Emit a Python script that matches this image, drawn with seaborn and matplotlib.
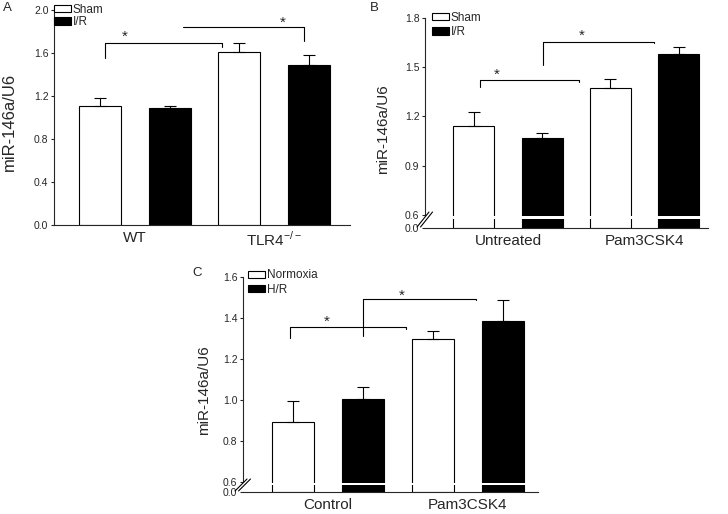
import numpy as np
import pandas as pd
import matplotlib
matplotlib.use('Agg')
import matplotlib.pyplot as plt
import seaborn as sns
from matplotlib.patches import Patch

# ── DATA ───────────────────────────────────────────────────────
a_groups   = ['WT', 'TLR4$^{-/-}$']
a_hues     = ['Sham', 'I/R']
a_sham     = [1.104, 1.612]
a_sham_err = [0.077, 0.081]
a_ir       = [1.088, 1.491]
a_ir_err   = [0.022, 0.090]

b_groups   = ['Untreated', 'Pam3CSK4']
b_hues     = ['Sham', 'I/R']
b_sham     = [1.143, 1.373]
b_sham_err = [0.085, 0.053]
b_ir       = [1.072, 1.580]
b_ir_err   = [0.030, 0.045]

c_groups   = ['Control', 'Pam3CSK4']
c_hues     = ['Normoxia', 'H/R']
c_norm     = [0.893, 1.298]
c_norm_err = [0.104, 0.039]
c_hr       = [1.007, 1.387]
c_hr_err   = [0.058, 0.099]

# ── STYLE ──────────────────────────────────────────────────────
sns.set_style('ticks')
plt.rcParams['font.family'] = ['Liberation Sans', 'DejaVu Sans']
plt.rcParams['mathtext.fontset'] = 'custom'
plt.rcParams['mathtext.rm'] = 'Liberation Sans'
plt.rcParams['axes.linewidth'] = 0.8
LW = 0.8

fig = plt.figure(figsize=(7.28, 5.14), dpi=100)


# ── HELPER: broken y scale (squeeze 0..cut) ────────────────────
def make_break(k, cut=0.6):
    def fwd(y):
        y = np.asarray(y, dtype=float)
        return np.where(y >= cut, y, cut - (cut - y) * k)

    def inv(u):
        u = np.asarray(u, dtype=float)
        return np.where(u >= cut, u, cut - (cut - u) / k)
    return fwd, inv


# ── HELPER: one panel ──────────────────────────────────────────
def draw_panel(pos, groups, hues, v1, e1, v2, e2, yticks, ylim, xlim,
               letter, letter_xy, label_xy, label_size, leg_anchor,
               leg_space, brackets, brk=None):
    ax = fig.add_axes(pos)
    df = pd.DataFrame({
        'group': groups * 2,
        'treat': [hues[0]] * len(groups) + [hues[1]] * len(groups),
        'value': list(v1) + list(v2),
    })
    sns.barplot(data=df, x='group', y='value', hue='treat',
                order=groups, hue_order=hues,
                palette=['white', 'black'], edgecolor='black',
                linewidth=LW, width=1.0, gap=0.4, errorbar=None,
                legend=False, ax=ax)

    # upper-only error bars on each bar
    for cont, errs in zip(ax.containers, [e1, e2]):
        xs = [b.get_x() + b.get_width() / 2 for b in cont]
        ys = [b.get_height() for b in cont]
        ax.errorbar(xs, ys, yerr=[np.zeros(len(errs)), errs], fmt='none',
                    ecolor='black', elinewidth=LW, capsize=4,
                    capthick=LW, zorder=4)

    if brk is not None:
        k, gap_lo, gap_hi, cut_px = brk
        fwd, inv = make_break(k)
        ax.set_yscale('function', functions=(fwd, inv))
        ax.axhspan(gap_lo, gap_hi, color='white', zorder=3, lw=0)
        ax.spines['left'].set_bounds(0.6, ylim[1])
        w, h = ax.bbox.width, ax.bbox.height
        for dx in (-2.0, 1.5):
            ax.plot([(-6 + dx) / w, (6 + dx) / w], [1 / h, (cut_px + 3) / h],
                    transform=ax.transAxes, color='black', lw=LW,
                    clip_on=False, zorder=6)

    ax.set_ylim(*ylim)
    ax.set_xlim(*xlim)
    ax.set_yticks(yticks)
    ax.set_yticklabels([f'{t:.1f}' for t in yticks])
    ax.tick_params(axis='y', labelsize=7.5, length=2.5, width=LW, pad=1.5)
    ax.tick_params(axis='x', labelsize=11, length=0, pad=4)
    ax.set_xlabel('')
    ax.set_ylabel('miR-146a/U6', fontsize=label_size)
    ax.yaxis.set_label_coords(*label_xy)
    sns.despine(ax=ax)

    # significance brackets
    for xl, xr, yl, yt, yr, sx, sy in brackets:
        ax.plot([xl, xl, xr, xr], [yl, yt, yt, yr], color='black', lw=LW,
                clip_on=False, zorder=5)
        ax.text(sx, sy, '*', ha='center', va='baseline', fontsize=11)

    handles = [Patch(facecolor='white', edgecolor='black', lw=LW),
               Patch(facecolor='black', edgecolor='black', lw=LW)]
    ax.legend(handles, hues, loc='upper left', bbox_to_anchor=leg_anchor,
              frameon=False, fontsize=8.5, handlelength=1.45,
              handleheight=0.6, handletextpad=0.15, labelspacing=leg_space,
              borderpad=0, borderaxespad=0)

    fig.text(letter_xy[0], letter_xy[1], letter, fontsize=9.5,
             ha='left', va='top')
    return ax


# ── PANEL A ────────────────────────────────────────────────────
draw_panel([0.0742, 0.5623, 0.4066, 0.4183], a_groups, a_hues,
           a_sham, a_sham_err, a_ir, a_ir_err,
           [0.0, 0.4, 0.8, 1.2, 1.6, 2.0], (0, 2.0), (-0.583, 1.547),
           'A', (0.004, 0.996), (-0.125, 0.481), 12, (0.0, 1.03), 0.05,
           [(-0.216, 0.624, 1.556, 1.690, 1.659, -0.072, 1.709),
            (0.343, 1.216, 1.839, 1.839, 1.714, 1.063, 1.848)])

# ── PANEL B ────────────────────────────────────────────────────
draw_panel([0.5838, 0.5564, 0.3887, 0.4086], b_groups, b_hues,
           b_sham, b_sham_err, b_ir, b_ir_err,
           [0.0, 0.6, 0.9, 1.2, 1.5, 1.8], (0, 1.8), (-0.608, 1.465),
           'B', (0.508, 0.996), (-0.122, 0.471), 11, (0.024, 1.03), 0.2,
           [(-0.207, 0.521, 1.378, 1.422, 1.412, -0.085, 1.430),
            (0.253, 1.070, 1.514, 1.652, 1.646, 0.539, 1.668)],
           brk=(0.132, 0.415, 0.554, 13))

# ── PANEL C ────────────────────────────────────────────────────
draw_panel([0.3338, 0.0428, 0.4052, 0.4183], c_groups, c_hues,
           c_norm, c_norm_err, c_hr, c_hr_err,
           [0.0, 0.6, 0.8, 1.0, 1.2, 1.4, 1.6], (0, 1.6), (-0.607, 1.5),
           'C', (0.264, 0.481), (-0.108, 0.474), 11, (0.018, 1.035), 0.2,
           [(-0.271, 0.557, 1.302, 1.356, 1.348, -0.009, 1.360),
            (0.248, 1.055, 1.314, 1.493, 1.486, 0.526, 1.489)],
           brk=(0.0813, 0.42, 0.57, 10))

fig.savefig('out.png', dpi=100)
